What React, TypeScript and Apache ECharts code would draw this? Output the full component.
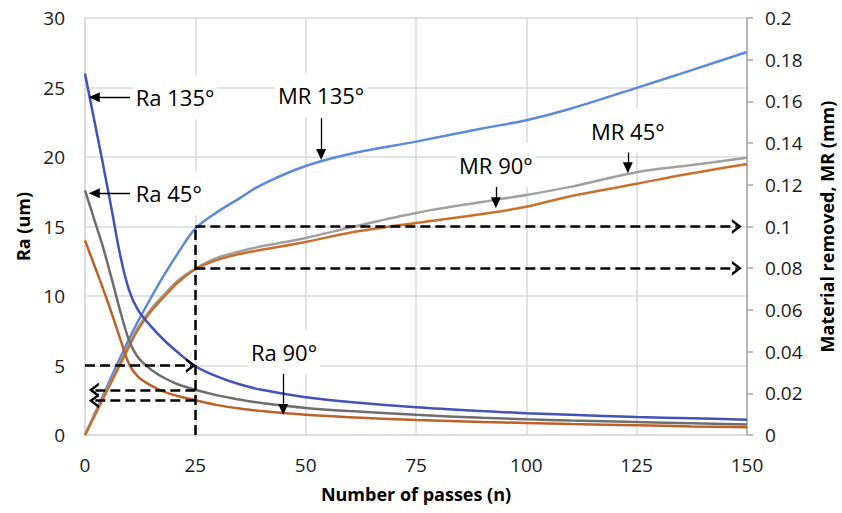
import React, { useEffect, useRef } from "react";
import * as echarts from "echarts";

// ---- data ----
const passes = [0, 2, 4, 6, 8, 10, 12, 15, 18, 21, 25, 30, 35, 40, 50, 60, 75, 90, 100, 110, 125, 137.5, 150];
const ra135 = [26.0, 22.8, 19.6, 16.3, 12.9, 10.4, 9.0, 7.8, 6.8, 5.95, 4.95, 4.2, 3.65, 3.25, 2.72, 2.38, 2.0, 1.72, 1.57, 1.45, 1.3, 1.2, 1.1];
const ra45 = [17.6, 15.6, 13.6, 11.3, 8.9, 6.8, 5.6, 4.7, 4.1, 3.65, 3.25, 2.85, 2.55, 2.3, 1.95, 1.72, 1.45, 1.24, 1.13, 1.04, 0.93, 0.84, 0.75];
const ra90 = [14.0, 12.3, 10.6, 8.8, 6.9, 5.1, 4.2, 3.55, 3.1, 2.8, 2.5, 2.15, 1.9, 1.72, 1.45, 1.28, 1.08, 0.94, 0.86, 0.79, 0.7, 0.62, 0.56];
const mr135 = [0, 0.0093, 0.0186, 0.028, 0.0372, 0.046, 0.0545, 0.066, 0.077, 0.087, 0.099, 0.107, 0.1135, 0.12, 0.129, 0.1348, 0.1407, 0.147, 0.151, 0.1565, 0.1665, 0.175, 0.1837];
const mr45 = [0, 0.0087, 0.0175, 0.026, 0.035, 0.0435, 0.0515, 0.0605, 0.0675, 0.074, 0.0798, 0.085, 0.088, 0.0905, 0.0945, 0.0995, 0.1065, 0.1118, 0.1151, 0.119, 0.126, 0.1295, 0.133];
const mr90 = [0, 0.0085, 0.017, 0.0255, 0.034, 0.0425, 0.0505, 0.0595, 0.0665, 0.073, 0.0795, 0.084, 0.0868, 0.0888, 0.0926, 0.097, 0.1017, 0.106, 0.1095, 0.1145, 0.1205, 0.1255, 0.13];

// axis ranges
const xRange = [0, 150, 25];
const raRange = [0, 30, 5];
const mrRange = [0, 0.2, 0.02];

// annotation texts and anchors (data units)
const raLabelTexts = ["Ra 135°", "Ra 45°", "Ra 90°"];
const raLabelAt = [[10.7, 24.3], [10.7, 17.4], [45.1, 5.97]];
const raArrows = [[[10.2, 24.3], [2.1, 24.3]], [[10.2, 17.4], [2.1, 17.4]], [[44.9, 4.44], [44.9, 1.83]]];
const mrLabelTexts = ["MR 135°", "MR 90°", "MR 45°"];
const mrLabelAt = [[53.5, 0.163], [93.1, 0.1295], [123.0, 0.146]];
const mrArrows = [[[53.5, 0.152], [53.5, 0.1345]], [[93.1, 0.1191], [93.1, 0.1114]], [[123.0, 0.1359], [123.0, 0.1282]]];

// dashed guides
const raGuides = [[[0, 5], [24.0, 5]], [[25, 3.24], [2.0, 3.24]], [[25, 2.47], [2.0, 2.47]]];
const mrGuides = [[[25, 0.1], [147.7, 0.1]], [[25, 0.08], [147.7, 0.08]]];
const mrVertical = [[25, 0], [25, 0.1]];

const FONT = "Open Sans";
const CHEVRON = "path://M0,12 L10,0 L20,12 L16,12 L10,5 L4,12 Z";

const pairs = (ys: number[]) => passes.map((x, i) => [x, ys[i]]);

export default function App() {
  const ref = useRef<HTMLDivElement>(null);
  useEffect(() => {
    if (!ref.current) return;
    const chart = echarts.init(ref.current, null, { renderer: "svg" });

    const textLabel = {
      show: true,
      formatter: "{b}",
      color: "#000",
      fontSize: 22,
      fontFamily: FONT,
      backgroundColor: "#fff",
      padding: [8, 3],
      lineHeight: 28,
    };

    const mkPoints = (texts: string[], at: number[][], leftAligned: boolean[]) => ({
      silent: true,
      symbol: "rect",
      symbolSize: 1,
      itemStyle: { color: "rgba(0,0,0,0)" },
      label: textLabel,
      data: texts.map((t, i) => ({
        name: t,
        coord: at[i],
        label: leftAligned[i] ? { position: "right", distance: 0 } : { position: "inside" },
      })),
    });

    const arrowLines = (arr: number[][][]) => ({
      silent: true,
      symbol: ["none", "triangle"],
      symbolSize: [10, 11],
      lineStyle: { color: "#000", width: 1.3, type: "solid" },
      label: { show: false },
      emphasis: { disabled: true },
      data: arr.map((p) => [{ coord: p[0] }, { coord: p[1] }]),
    });

    const dashedLines = (arr: number[][][], withArrow: boolean) => ({
      silent: true,
      symbol: withArrow ? ["none", CHEVRON] : ["none", "none"],
      symbolSize: [15, 10],
      lineStyle: { color: "#000", width: 2.5, type: [10, 5] },
      label: { show: false },
      emphasis: { disabled: true },
      data: arr.map((p) => [{ coord: p[0] }, { coord: p[1] }]),
    });

    const lineSeries = (name: string, ys: number[], color: string, yAxisIndex: number, extra: any = {}) => ({
      name,
      type: "line",
      yAxisIndex,
      data: pairs(ys),
      smooth: 0.35,
      showSymbol: false,
      symbol: "none",
      lineStyle: { color, width: 2.5 },
      itemStyle: { color },
      silent: true,
      ...extra,
    });

    chart.setOption({
      animation: false,
      backgroundColor: "#fff",
      grid: { left: 85, right: 95, top: 18, bottom: 78, containLabel: false, outerBoundsMode: "none" },
      xAxis: {
        type: "value",
        min: xRange[0],
        max: xRange[1],
        interval: xRange[2],
        name: "Number of passes (n)",
        nameLocation: "middle",
        nameGap: 50,
        nameTextStyle: { fontSize: 18, fontWeight: "bold", fontFamily: FONT, color: "#000" },
        axisLine: { show: true, lineStyle: { color: "#d9d9d9", width: 1.5 } },
        axisTick: { show: false },
        axisLabel: { fontSize: 19, fontFamily: FONT, color: "#1a1a1a", margin: 20 },
        splitLine: { show: true, lineStyle: { color: "#d9d9d9", width: 1.5 } },
      },
      yAxis: [
        {
          type: "value",
          min: raRange[0],
          max: raRange[1],
          interval: raRange[2],
          name: "Ra (um)",
          nameLocation: "middle",
          nameGap: 49,
          nameRotate: 90,
          nameTextStyle: { fontSize: 18, fontWeight: "bold", fontFamily: FONT, color: "#000" },
          axisLine: { show: true, lineStyle: { color: "#d9d9d9", width: 1.5 } },
          axisTick: { show: false },
          axisLabel: { fontSize: 19, fontFamily: FONT, color: "#1a1a1a", margin: 20 },
          splitLine: { show: true, lineStyle: { color: "#d9d9d9", width: 1.5 } },
        },
        {
          type: "value",
          position: "right",
          min: mrRange[0],
          max: mrRange[1],
          interval: mrRange[2],
          name: "Material removed, MR (mm)",
          nameLocation: "middle",
          nameGap: 71,
          nameRotate: 90,
          nameTextStyle: { fontSize: 18, fontWeight: "bold", fontFamily: FONT, color: "#000" },
          axisLine: { show: true, lineStyle: { color: "#a6a6a6", width: 1.5 } },
          axisTick: { show: true, inside: false, length: 6, lineStyle: { color: "#a6a6a6", width: 1.5 } },
          axisLabel: { fontSize: 19, fontFamily: FONT, color: "#1a1a1a", margin: 18 },
          splitLine: { show: false },
        },
      ],
      series: [
        lineSeries("MR 135°", mr135, "#5b8ad8", 1, {
          markLine: arrowLines(mrArrows),
          markPoint: mkPoints(mrLabelTexts, mrLabelAt, [false, false, false]),
        }),
        lineSeries("MR 45°", mr45, "#a0a0a0", 1, { markLine: dashedLines(mrGuides, true) }),
        lineSeries("MR 90°", mr90, "#c96f2c", 1, { markLine: dashedLines([mrVertical], false) }),
        lineSeries("Ra 135°", ra135, "#4152b8", 0, {
          markLine: arrowLines(raArrows),
          markPoint: mkPoints(raLabelTexts, raLabelAt, [true, true, false]),
        }),
        lineSeries("Ra 45°", ra45, "#6e6e6e", 0, { markLine: dashedLines(raGuides, true) }),
        lineSeries("Ra 90°", ra90, "#be6128", 0),
      ],
    });
    return () => chart.dispose();
  }, []);
  return <div ref={ref} style={{ position: "fixed", left: 0, top: 0, width: 842, height: 513 }} />;
}
